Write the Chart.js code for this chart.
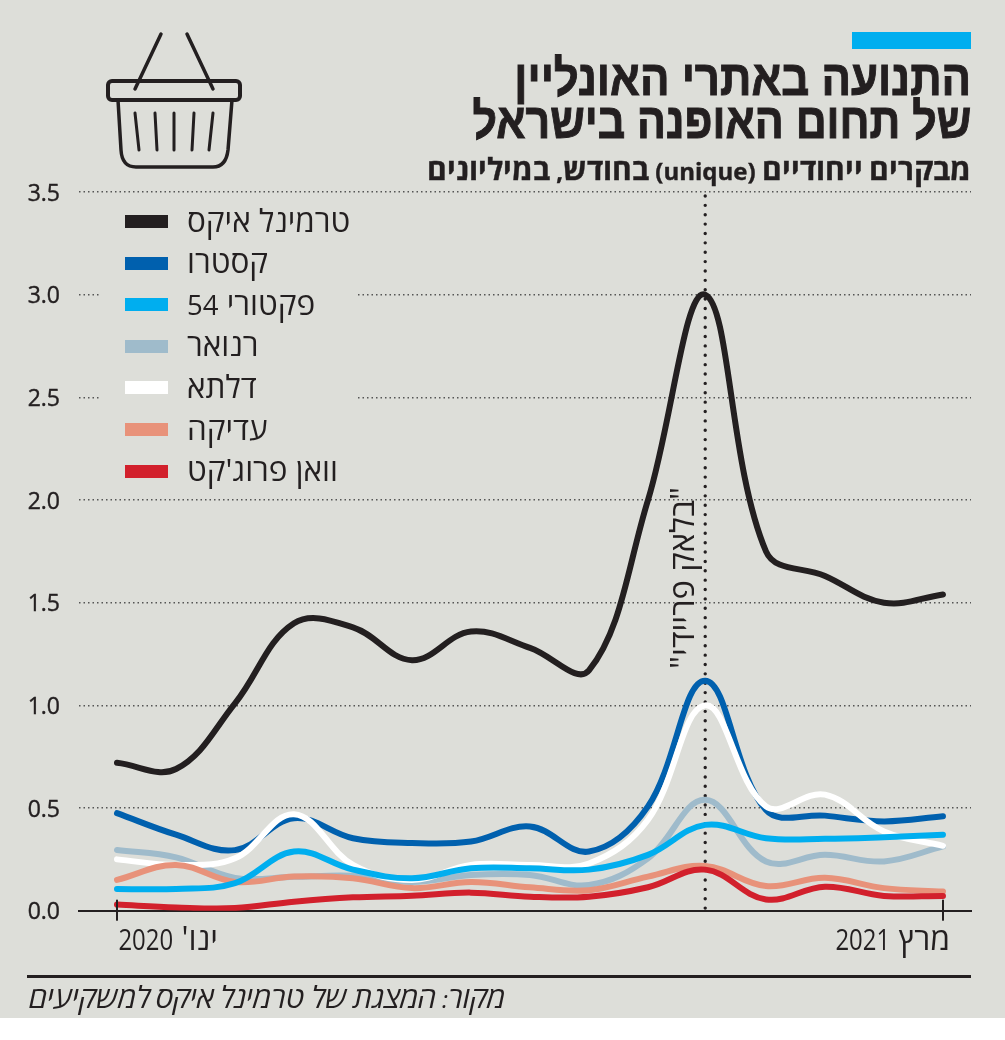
<!DOCTYPE html>
<html lang="he"><head><meta charset="utf-8">
<script src="https://cdn.jsdelivr.net/npm/chart.js@4"></script>
<style>
@font-face{font-family:"HebBig";src:local("Open Sans Bold"),local("OpenSans-Bold");unicode-range:U+0590-05FF;size-adjust:125%;font-weight:bold;font-style:normal}
@font-face{font-family:"HebBig";src:local("Open Sans Italic"),local("OpenSans-Italic");unicode-range:U+0590-05FF;size-adjust:125%;font-weight:normal;font-style:italic}
html,body{margin:0;padding:0;background:#fff}
#page{position:relative;width:1005px;height:1018px;background:#DDDED9;overflow:hidden}
canvas{position:absolute;left:0;top:0}
.t{position:absolute;right:34px;direction:rtl;white-space:nowrap;color:#231F20;transform-origin:right top}
#bar{position:absolute;left:852px;top:32px;width:119px;height:17px;background:#00AEEF}
#t1,#t2{font:bold 50px "Liberation Sans";-webkit-text-stroke:1px #231F20}
#t1{top:49px;transform:scaleX(.875)}
#t2{top:92px;transform:scaleX(.858)}
#sub{top:148px;font:bold 24px HebBig,"Open Sans";-webkit-text-stroke:.4px #231F20}
#src{position:absolute;left:0;width:505px;text-align:right;top:976px;direction:rtl;font:italic 24px HebBig,"Open Sans";color:#231F20;white-space:nowrap}
#rule{position:absolute;left:27px;width:944px;top:975px;height:3px;background:#231F20}
svg{position:absolute;left:0;top:0}
.lab{position:absolute;direction:rtl;white-space:nowrap;color:#231F20;font-family:"Open Sans";line-height:40px;height:40px;text-align:right}
.leg{font-size:31.5px}
.tk{font-size:32px}
.tk .d{display:inline-block;font:28.5px/40px "Open Sans";transform:scaleX(.84);transform-origin:right center}
.leg .d{font:27.5px/40px "Open Sans";}
#ev{font-size:32.7px;transform-origin:0 0;transform:rotate(-90deg);left:662px;top:668px;width:181px}
.sw{position:absolute;left:125px;width:43px;height:13px}
</style></head><body>
<div id="page">
<canvas id="c" width="1005" height="1018"></canvas>
<div id="bar"></div>
<div class="t" id="t1">התנועה באתרי האונליין</div>
<div class="t" id="t2">של תחום האופנה בישראל</div>
<div class="t" id="sub">מבקרים ייחודיים (unique) בחודש, במיליונים</div>
<svg width="300" height="180" fill="none" stroke="#231F20" stroke-linecap="round" stroke-linejoin="round">
<path d="M161 34L135 89M187 34L213 89" stroke-width="3.5"/>
<rect x="108" y="81" width="132" height="19" rx="4" stroke-width="4"/>
<path d="M118 100L121 150Q122 167 136 167H213Q226 167 228 150L232 100" stroke-width="3.5"/>
<path d="M135 113L139 150M155 113L157 150M174 113V150M194 113L192 150M213 113L209 150" stroke-width="3"/>
</svg>
<div id="rule"></div>
<div id="src">מקור: המצגת של טרמינל איקס למשקיעים</div>
</div>
<script>
const months=[0,1,2,3,4,5,6,7,8,9,9.97,11,12,13,14];
const tickLabels={0:"ינו' 2020",14:"מרץ 2021"};
const seriesNames=["טרמינל איקס","קסטרו","פקטורי 54","רנואר","דלתא","עדיקה","וואן פרוג'קט"];
const seriesColors=["#231F20","#0060AE","#00AEEF","#9FBBCB","#FFFFFF","#E8927A","#D2202C"];
const seriesOrder=[0,5,2,6,4,3,1];
const terminalX=[0.72,0.69,1.01,1.40,1.38,1.22,1.36,1.28,1.17,2.0,3.0,1.75,1.63,1.50,1.54];
const castro=[0.475,0.37,0.295,0.45,0.353,0.33,0.337,0.41,0.288,0.508,1.12,0.49,0.463,0.435,0.46];
const factory54=[0.106,0.106,0.134,0.288,0.20,0.158,0.207,0.207,0.20,0.272,0.418,0.353,0.35,0.358,0.37];
const renoir=[0.296,0.26,0.16,0.165,0.17,0.14,0.174,0.174,0.125,0.255,0.54,0.24,0.272,0.24,0.313];
const delta=[0.25,0.223,0.255,0.47,0.223,0.15,0.223,0.223,0.23,0.443,1.0,0.508,0.565,0.386,0.316];
const adika=[0.15,0.223,0.14,0.166,0.158,0.11,0.14,0.114,0.10,0.166,0.218,0.12,0.16,0.11,0.093];
const oneProject=[0.03,0.016,0.013,0.044,0.065,0.073,0.088,0.068,0.068,0.114,0.2,0.055,0.117,0.072,0.072];
const allSeries=[terminalX,castro,factory54,renoir,delta,adika,oneProject];
const eventMonth=9.97;
const eventLabel='"בלאק פריידי"';
const ink="#231F20", bg="#DDDED9";

const page=document.getElementById('page');
function addLabel(cls,text,style){
 const d=document.createElement('div'); d.className='lab '+cls;
 d.innerHTML=text.replace(/\d+/g,m=>'<span class="d">'+m+'</span>');
 Object.assign(d.style,style); page.appendChild(d); return d;
}
seriesNames.forEach((n,i)=>{
 const yy=221.5+i*41.6;
 addLabel('leg',n,{left:'187px',top:(yy-22)+'px'});
 const s=document.createElement('div'); s.className='sw';
 s.style.top=(yy-6.5)+'px'; s.style.background=seriesColors[i]; page.appendChild(s);
});
addLabel('tk',tickLabels[0],{right:(1005-218)+'px',top:'918px'});
addLabel('tk',tickLabels[14],{right:(1005-950)+'px',top:'918px'});
addLabel('',eventLabel,{}).id='ev';

const decor={id:'decor',
 beforeDatasetsDraw(ch){
  const {ctx}=ch, x=ch.scales.x;
  ctx.save();
  ctx.fillStyle=bg; ctx.fillRect(101,205,257,285);
  const ex=x.getPixelForValue(eventMonth);
  ctx.strokeStyle=ink; ctx.lineWidth=3.4; ctx.lineCap='round'; ctx.setLineDash([0,9.37]);
  ctx.beginPath(); ctx.moveTo(ex,ch.scales.y.getPixelForValue(3.5)+4); ctx.lineTo(ex,ch.scales.y.getPixelForValue(0)-1); ctx.stroke();
  ctx.restore();
 },
 afterDatasetsDraw(ch){
  const {ctx}=ch, x=ch.scales.x, y0=ch.scales.y.getPixelForValue(0);
  ctx.save();
  ctx.strokeStyle=ink; ctx.lineWidth=2;
  [0,14].forEach(v=>{const p=x.getPixelForValue(v);ctx.beginPath();ctx.moveTo(p,y0-11);ctx.lineTo(p,y0+10);ctx.stroke();});
  ctx.restore();
 }};

function build(){
new Chart(document.getElementById('c'),{
 type:'line',
 data:{datasets:allSeries.map((vals,i)=>({
   label:seriesNames[i],
   data:vals.map((v,j)=>({x:months[j],y:v})),
   borderColor:seriesColors[i],
   borderWidth:6,
   pointRadius:0,
   tension:0.38,
   borderCapStyle:'round',
   borderJoinStyle:'round',
   fill:false,
   order:seriesOrder[i]
 }))},
 options:{
  responsive:false,animation:false,
  layout:{padding:{top:192,right:34,left:0,bottom:0}},
  plugins:{legend:{display:false},tooltip:{enabled:false}},
  scales:{
   x:{type:'linear',min:-0.644,max:14.475,
      afterBuildTicks(a){a.ticks=[{value:0},{value:14}];},
      afterFit(s){s.height=1018-910.7;},
      grid:{display:false},border:{display:true,color:ink,width:2},
      ticks:{display:false}},
   y:{min:0,max:3.5,
      afterFit(s){s.width=79;},
      grid:{drawTicks:false,color:c=>c.tick&&c.tick.value===0?'rgba(0,0,0,0)':'#555',lineWidth:1.5,
            borderDash:[1.5,3]},
      border:{display:false,dash:[1.5,3]},
      ticks:{stepSize:0.5,padding:19,labelOffset:2,color:ink,textStrokeColor:ink,textStrokeWidth:.4,font:{family:'"Open Sans"',size:23},
             callback:v=>v.toFixed(1)}}
  }
 },
 plugins:[decor]
});
}
Promise.all([document.fonts.load('24px "Open Sans"','1')]).then(build,build);
</script>
</body></html>
